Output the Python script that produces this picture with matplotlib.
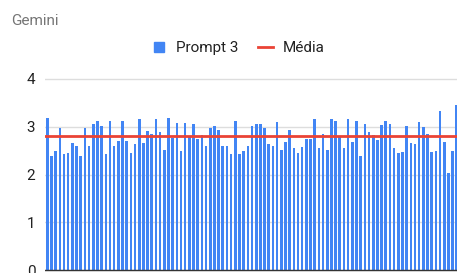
import numpy as np
import matplotlib
matplotlib.use('Agg')
import matplotlib.pyplot as plt
from matplotlib.lines import Line2D

# Gemini scores, Prompt 3 (one bar per item)
scores = [3.18, 2.39, 2.49, 2.98, 2.42, 2.44, 2.65, 2.59, 2.39, 2.98, 2.60, 3.06, 3.13, 3.01, 2.42, 3.11, 2.60,
          2.71, 3.13, 2.71, 2.46, 2.64, 3.17, 2.67, 2.91, 2.85, 3.17, 2.88, 2.51, 3.18, 2.76, 3.08, 2.49, 3.08,
          2.80, 3.06, 2.74, 2.83, 2.59, 2.98, 3.01, 2.93, 2.60, 2.59, 2.42, 3.11, 2.42, 2.49, 2.60, 3.01, 3.06,
          3.06, 2.98, 2.64, 2.59, 3.10, 2.52, 2.68, 2.93, 2.56, 2.44, 2.58, 2.74, 2.74, 3.17, 2.55, 2.84,
          2.51, 3.17, 3.11, 2.79, 2.55, 3.17, 2.68, 3.11, 2.39, 3.06, 2.90, 2.83, 2.72, 3.03, 3.11, 3.06, 2.56,
          2.46, 2.47, 3.01, 2.65, 2.64, 3.10, 3.00, 2.84, 2.47, 2.49, 3.33, 2.68, 2.04, 2.49, 3.46]
media = 2.81
yticks = [0, 1, 2, 3, 4]
series_label = 'Prompt 3'
media_label = 'Média'
title = 'Gemini'

blue = '#4285F4'
red = '#EA4335'

plt.rcParams['font.family'] = ['Roboto', 'DejaVu Sans']
plt.rcParams['font.size'] = 11

fig = plt.figure(figsize=(4.57, 2.73), dpi=100)
fig.patch.set_facecolor('white')

# plot area runs past the right/bottom edge of the crop
ax = fig.add_axes([45 / 457, 0, 412 / 457, 203 / 273])
x = np.arange(len(scores))
ax.bar(x, scores, width=0.62, color=blue, zorder=2)
ax.axhline(media, color=red, lw=2, zorder=3)

ax.set_xlim(-0.55, 98.05)
ax.set_ylim(-3 / 47.75, 4 + 9 / 47.75)
ax.set_yticks(yticks)
ax.set_yticklabels([str(t) for t in yticks], color='#222222')
ax.tick_params(axis='y', length=0, pad=7)
ax.set_xticks([])
ax.grid(axis='y', color='#dddddd', lw=1, zorder=0)
ax.axhline(0, color='#333333', lw=1, zorder=4)
for s in ax.spines.values():
  s.set_visible(False)

fig.text(11 / 457, 0.923, title, color='#757575', fontsize=11, va='center', ha='left')

# legend on top, centred
handles = [Line2D([], [], marker='s', linestyle='none', color=blue, markersize=7),
           Line2D([], [], color=red, lw=2)]
fig.legend(handles, [series_label, media_label], loc='center', bbox_to_anchor=(0.52, 0.824),
           ncol=2, frameon=False, handlelength=1.0, handletextpad=0.6, columnspacing=1.3,
           fontsize=11, labelcolor='#222222')

fig.savefig('out.png', dpi=100)
